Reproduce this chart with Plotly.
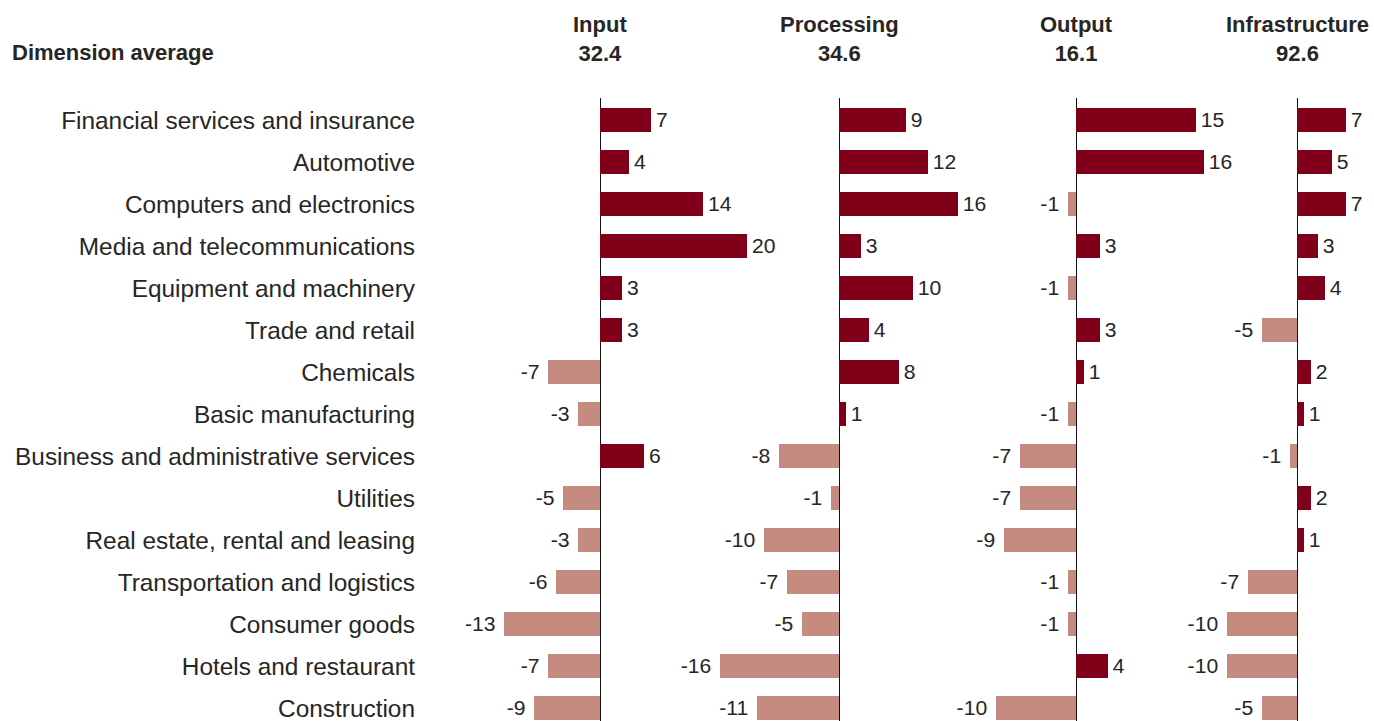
import plotly.graph_objects as go

W, H = 1374, 721

industries = [
    "Financial services and insurance",
    "Automotive",
    "Computers and electronics",
    "Media and telecommunications",
    "Equipment and machinery",
    "Trade and retail",
    "Chemicals",
    "Basic manufacturing",
    "Business and administrative services",
    "Utilities",
    "Real estate, rental and leasing",
    "Transportation and logistics",
    "Consumer goods",
    "Hotels and restaurant",
    "Construction",
]

dimensions = ["Input", "Processing", "Output", "Infrastructure"]
dimension_avg = ["32.4", "34.6", "16.1", "92.6"]

input_vals = [7, 4, 14, 20, 3, 3, -7, -3, 6, -5, -3, -6, -13, -7, -9]
processing_vals = [9, 12, 16, 3, 10, 4, 8, 1, -8, -1, -10, -7, -5, -16, -11]
output_vals = [15, 16, -1, 3, -1, 3, 1, -1, -7, -7, -9, -1, -1, 4, -10]
infrastructure_vals = [7, 5, 7, 3, 4, -5, 2, 1, -1, 2, 1, -7, -10, -10, -5]

series = [input_vals, processing_vals, output_vals, infrastructure_vals]

POS_COLOR = "#800019"
NEG_COLOR = "#C68B80"
TEXT_COLOR = "#262626"
FONT = "Liberation Sans, Arial, Helvetica, sans-serif"

# panel layout: pixel of the zero line, pixels per unit, visible value range
panels = [
    dict(zero=600, scale=7.35, lo=-22, hi=22),
    dict(zero=839, scale=7.45, lo=-22, hi=22),
    dict(zero=1076, scale=8.0, lo=-16, hi=20),
    dict(zero=1297, scale=7.0, lo=-20, hi=10),
]


def bar_label(v):
    # a little breathing room between the bar end and its value
    return f"\u200a{v}" if v >= 0 else f"{v}\u00a0"


fig = go.Figure()

for i, (vals, p) in enumerate(zip(series, panels)):
    axis_id = "x" if i == 0 else f"x{i + 1}"
    fig.add_trace(go.Bar(
        x=vals,
        y=industries,
        orientation="h",
        xaxis=axis_id,
        yaxis="y",
        width=0.55,
        marker=dict(color=[POS_COLOR if v >= 0 else NEG_COLOR for v in vals],
                    line=dict(width=0)),
        text=[bar_label(v) for v in vals],
        textposition="outside",
        textfont=dict(family=FONT, size=22, color=TEXT_COLOR),
        cliponaxis=False,
        hoverinfo="skip",
        showlegend=False,
    ))
    d0 = (p["zero"] + p["lo"] * p["scale"]) / W
    d1 = (p["zero"] + p["hi"] * p["scale"]) / W
    key = "xaxis" if i == 0 else f"xaxis{i + 1}"
    fig.layout[key] = dict(
        domain=[d0, d1],
        range=[p["lo"], p["hi"]],
        anchor="y",
        showgrid=False,
        showticklabels=False,
        ticks="",
        showline=False,
        zeroline=True,
        zerolinecolor="#111111",
        zerolinewidth=1,
        fixedrange=True,
    )
    fig.add_annotation(
        x=0, xref=axis_id, y=1, yref="paper",
        yshift=98 - 38.5,
        text=f"<b>{dimensions[i]}</b><br><b>{dimension_avg[i]}</b>",
        showarrow=False,
        xanchor="center", yanchor="middle",
        align="center",
        font=dict(family=FONT, size=22, color=TEXT_COLOR),
    )

fig.add_annotation(
    x=10 / W, xref="paper", y=1, yref="paper",
    yshift=98 - 52,
    text="<b>Dimension average</b>",
    showarrow=False,
    xanchor="left", yanchor="middle",
    font=dict(family=FONT, size=22, color=TEXT_COLOR),
)

top_px, row_px, first_row_px = 98, 42, 120
n = len(industries)
fig.update_layout(
    width=W, height=H,
    margin=dict(l=0, r=0, t=top_px, b=0),
    paper_bgcolor="white",
    plot_bgcolor="rgba(0,0,0,0)",
    bargap=0,
    yaxis=dict(
        type="category",
        categoryorder="array",
        categoryarray=industries,
        range=[(n - 1) + (H - (first_row_px + (n - 1) * row_px)) / row_px,
               -(first_row_px - top_px) / row_px],
        anchor="free",
        position=421 / W,
        showgrid=False,
        zeroline=False,
        showline=False,
        ticks="",
        ticklabelstandoff=6,
        tickfont=dict(family=FONT, size=24.4, color=TEXT_COLOR),
        fixedrange=True,
    ),
)

fig.write_html("out.html")
